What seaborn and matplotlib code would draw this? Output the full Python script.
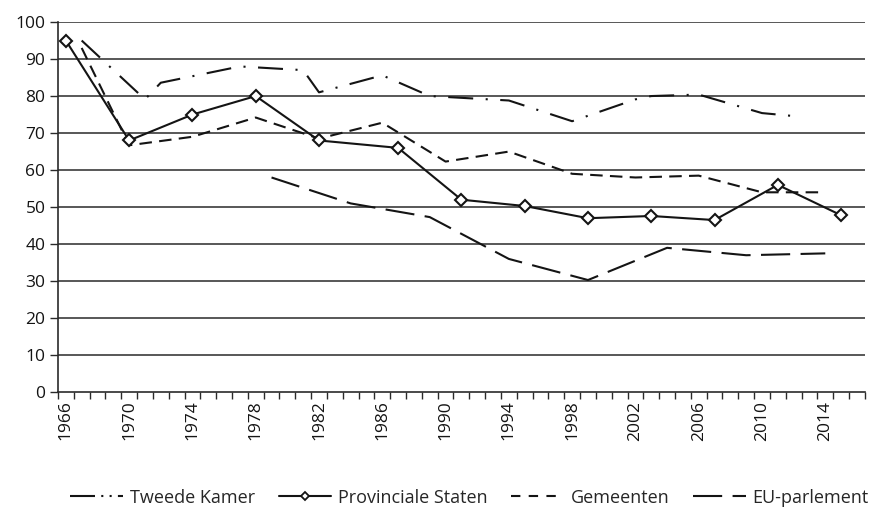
import matplotlib
matplotlib.use("Agg")
import matplotlib.pyplot as plt
from matplotlib.ticker import MultipleLocator, FixedLocator
from matplotlib.lines import Line2D
import seaborn as sns
import pandas as pd

# ---- data ----
years_tk = [1967, 1971, 1972, 1977, 1981, 1982, 1986, 1989, 1994, 1998, 2002, 2003, 2006, 2010, 2012]
tweede_kamer = [95.0, 79.1, 83.6, 88.0, 87.0, 81.0, 85.6, 80.0, 78.8, 73.2, 79.1, 80.0, 80.4, 75.4, 74.6]

years_ps = [1966, 1970, 1974, 1978, 1982, 1987, 1991, 1995, 1999, 2003, 2007, 2011, 2015]
provinciale_staten = [95.0, 68.0, 75.0, 80.0, 68.0, 66.0, 52.0, 50.3, 47.0, 47.6, 46.5, 56.0, 47.8]

years_gm = [1967, 1970, 1974, 1978, 1982, 1986, 1990, 1994, 1998, 2002, 2006, 2010, 2014]
gemeenten = [93.0, 66.7, 69.0, 74.2, 68.5, 72.8, 62.3, 65.0, 59.0, 58.0, 58.5, 54.0, 54.0]

years_eu = [1979, 1984, 1989, 1994, 1999, 2004, 2009, 2014]
eu_parlement = [58.0, 51.0, 47.3, 36.0, 30.3, 39.0, 37.0, 37.5]

labels = ["Tweede Kamer", "Provinciale Staten", "Gemeenten", "EU-parlement"]
tick_years = list(range(1966, 2015, 4))

sns.set_theme(style="white")
plt.rcParams["font.family"] = ["Open Sans", "DejaVu Sans"]

fig = plt.figure(figsize=(8.78, 5.12), dpi=100)
ax = fig.add_axes([0.066, 0.234, 0.919, 0.723])

ink = "#141414"
grid_c = "#2a2a2a"

# gridlines
for v in range(10, 101, 10):
    ax.axhline(v, color=grid_c, lw=1.1, zorder=1)

lw = 1.5
ls_tk = (0, (12, 6, 1, 6))
ls_gm = (0, (6, 3.5))
ls_eu = (0, (14, 5))

df_tk = pd.DataFrame({"jaar": years_tk, "opkomst": tweede_kamer})
df_ps = pd.DataFrame({"jaar": years_ps, "opkomst": provinciale_staten})
df_gm = pd.DataFrame({"jaar": years_gm, "opkomst": gemeenten})
df_eu = pd.DataFrame({"jaar": years_eu, "opkomst": eu_parlement})

sns.lineplot(data=df_tk, x="jaar", y="opkomst", ax=ax, color=ink, lw=lw,
             linestyle=ls_tk, zorder=3, legend=False)
sns.lineplot(data=df_ps, x="jaar", y="opkomst", ax=ax, color=ink, lw=lw,
             marker="D", markersize=6.5, markerfacecolor="white",
             markeredgecolor=ink, markeredgewidth=1.5, zorder=4, legend=False)
sns.lineplot(data=df_gm, x="jaar", y="opkomst", ax=ax, color=ink, lw=lw,
             linestyle=ls_gm, zorder=3, legend=False)
sns.lineplot(data=df_eu, x="jaar", y="opkomst", ax=ax, color=ink, lw=lw,
             linestyle=ls_eu, zorder=3, legend=False)

ax.set_xlim(1965.5, 2016.5)
ax.set_ylim(0, 100)
ax.set_xlabel("")
ax.set_ylabel("")

ax.xaxis.set_major_locator(FixedLocator(tick_years))
ax.set_xticklabels([str(y) for y in tick_years], rotation=90)
ax.xaxis.set_minor_locator(FixedLocator([1965.5 + i for i in range(52)]))
ax.tick_params(axis="x", which="major", length=0, pad=6, labelsize=12.5, labelcolor=ink)
ax.tick_params(axis="x", which="minor", bottom=True, length=5, width=1.0, color=grid_c)
ax.yaxis.set_major_locator(MultipleLocator(10))
ax.tick_params(axis="y", which="major", left=True, length=6, width=1.0, color=grid_c,
               labelsize=12.5, labelcolor=ink, pad=3)

for s in ["top", "right"]:
    ax.spines[s].set_visible(False)
for s in ["left", "bottom"]:
    ax.spines[s].set_color(grid_c)
    ax.spines[s].set_linewidth(1.2)

handles = [
    Line2D([], [], color=ink, lw=lw, linestyle=(0, (12, 3, 1, 3, 1, 3))),
    Line2D([], [], color=ink, lw=lw, marker="D", markersize=4.5,
           markerfacecolor="white", markeredgecolor=ink, markeredgewidth=1.3),
    Line2D([], [], color=ink, lw=lw, linestyle=(0, (4.5, 4))),
    Line2D([], [], color=ink, lw=lw, linestyle=(0, (14, 5))),
]
fig.legend(handles, labels, loc="center", bbox_to_anchor=(0.535, 0.028), ncol=4,
           frameon=False, fontsize=13, handlelength=2.9, columnspacing=1.3,
           handletextpad=0.4)

fig.savefig("out.png", dpi=100)
